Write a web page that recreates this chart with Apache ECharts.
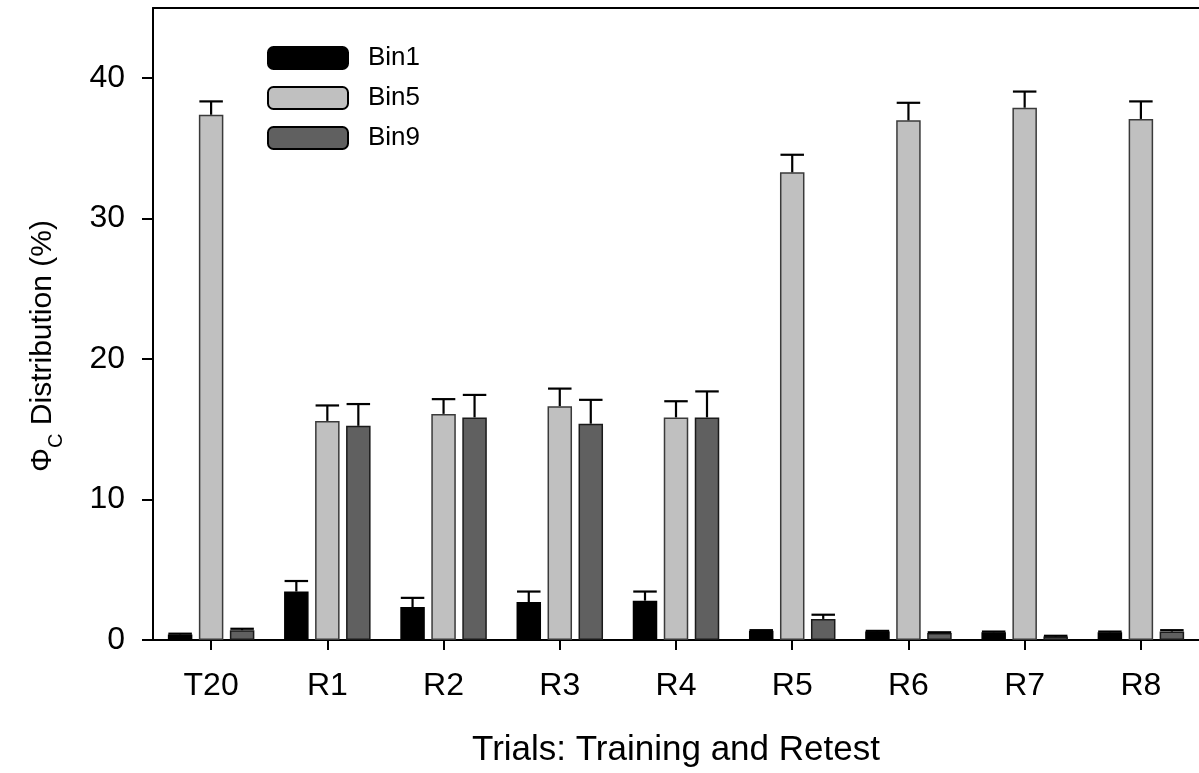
<!DOCTYPE html>
<html>
<head>
<meta charset="utf-8">
<script src="https://cdn.jsdelivr.net/npm/echarts@6/dist/echarts.min.js"></script>
<style>html,body{margin:0;padding:0;background:#fff}#chart{width:1199px;height:773px}</style>
</head>
<body>
<div id="chart"></div>
<script>
const categories = ['T20', 'R1', 'R2', 'R3', 'R4', 'R5', 'R6', 'R7', 'R8'];
const seriesNames = ['Bin1', 'Bin5', 'Bin9'];
const bin1 = [0.4, 3.45, 2.35, 2.7, 2.8, 0.65, 0.6, 0.55, 0.55];
const bin1Err = [0.05, 0.75, 0.65, 0.75, 0.65, 0.05, 0.05, 0.05, 0.05];
const bin5 = [37.4, 15.6, 16.1, 16.65, 15.85, 33.3, 37.0, 37.9, 37.1];
const bin5Err = [0.95, 1.1, 1.05, 1.25, 1.15, 1.25, 1.25, 1.15, 1.25];
const bin9 = [0.7, 15.25, 15.85, 15.4, 15.85, 1.5, 0.5, 0.25, 0.6];
const bin9Err = [0.1, 1.55, 1.6, 1.7, 1.85, 0.3, 0.05, 0.05, 0.1];
const yTicks = [0, 10, 20, 30, 40];

const FONT = 'Liberation Sans, Arial, sans-serif';
const BAR_W = 24.5, BAR_GAP = 6.5;
const fills = ['#000000', '#c0c0c0', '#606060'];
const borders = ['#000000', '#3a3a3a', '#1a1a1a'];
const values = [bin1, bin5, bin9];
const errs = [bin1Err, bin5Err, bin9Err];

const chart = echarts.init(document.getElementById('chart'), null, {renderer: 'canvas'});

const barSeries = seriesNames.map((n, i) => ({
  name: n,
  type: 'bar',
  data: values[i],
  barWidth: BAR_W,
  barGap: (BAR_GAP / BAR_W * 100) + '%',
  itemStyle: {color: fills[i], borderColor: borders[i], borderWidth: 1.5},
  emphasis: {disabled: true},
  z: 2
}));

const errSeries = seriesNames.map((n, i) => ({
  type: 'custom',
  name: n + ' err',
  data: values[i].map((v, k) => [k, v, errs[i][k]]),
  z: 5,
  silent: true,
  renderItem: function (params, api) {
    const off = (i - 1) * (BAR_W + BAR_GAP);
    const base = api.coord([api.value(0), api.value(1)]);
    const top = api.coord([api.value(0), api.value(1) + api.value(2)]);
    const x = base[0] + off;
    const half = BAR_W / 2 - 0.5;
    const st = {stroke: '#000', lineWidth: 2.2};
    return {
      type: 'group',
      children: [
        {type: 'line', shape: {x1: x, y1: base[1], x2: x, y2: top[1]}, style: st},
        {type: 'line', shape: {x1: x - half, y1: top[1], x2: x + half, y2: top[1]}, style: st}
      ]
    };
  }
}));

chart.setOption({
  animation: false,
  backgroundColor: '#fff',
  textStyle: {fontFamily: FONT},
  grid: {left: 153, top: 8, width: 1053, height: 635, containLabel: false},
  legend: {
    data: seriesNames,
    orient: 'vertical',
    left: 267, top: 45,
    padding: 0,
    itemWidth: 80, itemHeight: 22, itemGap: 14,
    icon: 'roundRect',
    itemStyle: {borderColor: '#000', borderWidth: 2},
    textStyle: {fontFamily: FONT, fontSize: 26, color: '#000', padding: [0, 0, 0, 15]},
    selectedMode: false
  },
  xAxis: [{
    type: 'category',
    data: categories,
    position: 'bottom',
    axisLine: {lineStyle: {color: '#000', width: 2}},
    axisTick: {show: true, alignWithLabel: true, length: 10, lineStyle: {color: '#000', width: 2}},
    axisLabel: {fontFamily: FONT, fontSize: 32, color: '#000', margin: 30},
    name: 'Trials: Training and Retest',
    nameLocation: 'middle',
    nameGap: 93,
    nameTextStyle: {fontFamily: FONT, fontSize: 35, color: '#000'}
  }, {
    type: 'category',
    data: categories,
    position: 'top',
    axisLine: {lineStyle: {color: '#000', width: 2}},
    axisTick: {show: false},
    axisLabel: {show: false}
  }],
  yAxis: {
    type: 'value',
    min: 0, max: 45, interval: 10,
    splitLine: {show: false},
    axisLine: {show: true, lineStyle: {color: '#000', width: 2}},
    axisTick: {show: true, length: 11, lineStyle: {color: '#000', width: 2}, customValues: yTicks},
    axisLabel: {fontFamily: FONT, fontSize: 32, color: '#000', margin: 28, customValues: yTicks},
    name: '{a|Φ}{s|C}{a| Distribution (%)}',
    nameLocation: 'middle',
    nameGap: 95,
    nameRotate: 90,
    nameTextStyle: {
      color: '#000',
      padding: [0, 44, 0, 0],
      rich: {
        a: {fontFamily: FONT, fontSize: 30, color: '#000'},
        s: {fontFamily: FONT, fontSize: 20, color: '#000', verticalAlign: 'bottom', padding: [0, 0, -8, 0]}
      }
    }
  },
  series: barSeries.concat(errSeries)
});
</script>
</body>
</html>
